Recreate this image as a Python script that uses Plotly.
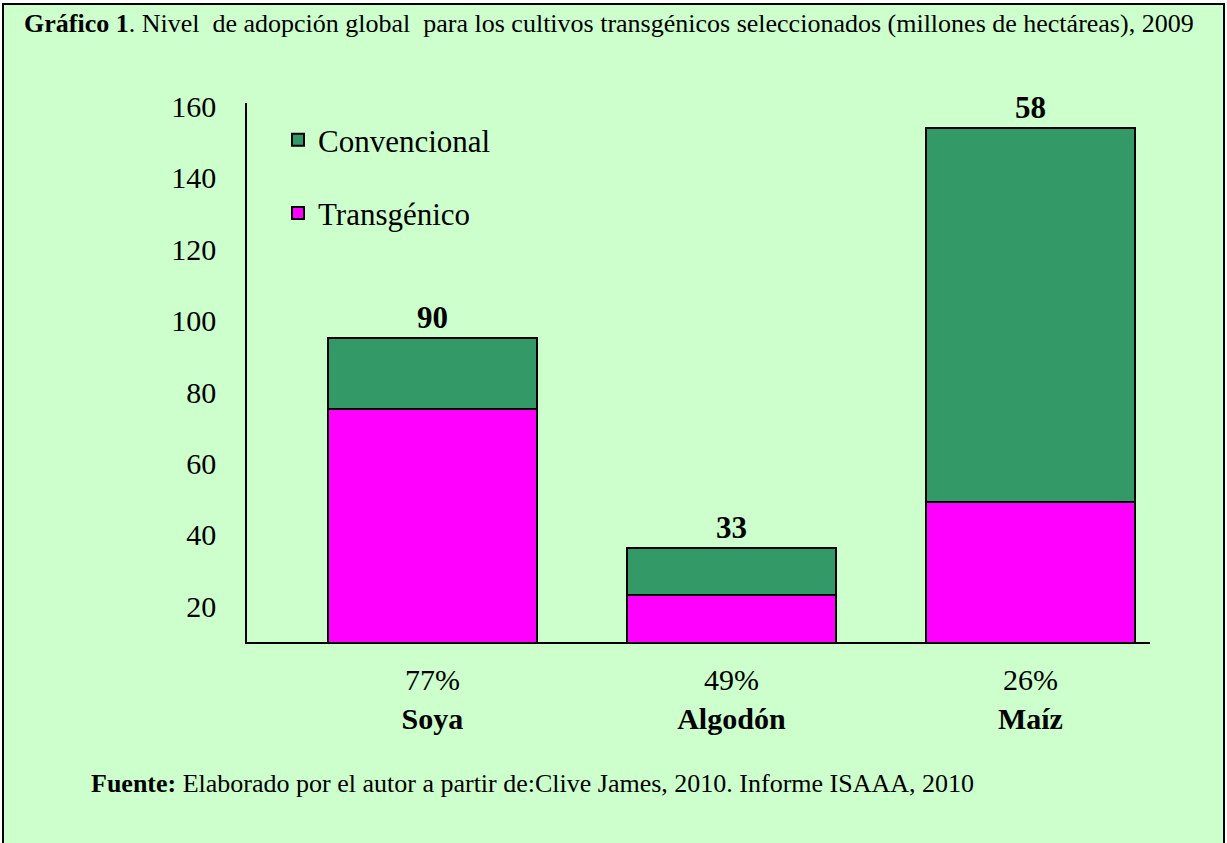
import plotly.graph_objects as go

crops = ["Soya", "Algodón", "Maíz"]
adoption_pct = ["77%", "49%", "26%"]
transgenico = [75.4, 23.2, 49.3]
convencional = [19.9, 13.1, 104.6]
top_labels = ["90", "33", "58"]

FONT = "Liberation Serif, Times New Roman, serif"
GREEN = "#339966"
MAGENTA = "#FF00FF"
BG = "#CCFFCC"

tick_text = [f"{p}<br><b>{c}</b>" for p, c in zip(adoption_pct, crops)]

fig = go.Figure()
fig.add_trace(go.Bar(
    x=crops, y=transgenico, name="Transgénico", legendgroup="t", legendrank=2,
    marker=dict(color=MAGENTA, line=dict(color="black", width=2)),
    width=0.7,
))
fig.add_trace(go.Bar(
    x=crops, y=convencional, name="Convencional", legendgroup="c", legendrank=1,
    marker=dict(color=GREEN, line=dict(color="black", width=2)),
    width=0.7,
    text=top_labels, textposition="outside",
    textfont=dict(family=FONT, size=31, color="black", weight="bold"),
    cliponaxis=False,
))

W, H = 1227, 843
# plot area in window pixels: x 247..1150, y 103..642
L, R, T, B = 247, 1150, 103, 642
ml, mr, mt, mb = L, W - R, T, H - B
pw, ph = W - ml - mr, H - mt - mb

def px(xp):
    return (xp - L) / pw

def py(yp):
    return (B - yp) / ph

fig.update_layout(
    width=W, height=H,
    margin=dict(l=ml, r=mr, t=mt, b=mb),
    barmode="stack",
    paper_bgcolor="white",
    plot_bgcolor="rgba(0,0,0,0)",
    font=dict(family=FONT, size=30, color="black"),
    showlegend=True,
    legend=dict(
        x=px(278), y=py(113), xanchor="left", yanchor="top",
        bgcolor="rgba(0,0,0,0)", traceorder="grouped",
        tracegroupgap=30, font=dict(family=FONT, size=31, color="black"),
    ),
    xaxis=dict(
        type="category", range=[-0.62, 2.4],
        tickmode="array", tickvals=crops, ticktext=tick_text,
        showline=True, linecolor="black", linewidth=1.5,
        showgrid=False, ticks="", ticklabelstandoff=10,
        tickfont=dict(family=FONT, size=30, color="black"),
    ),
    yaxis=dict(
        range=[10, 161], tickvals=[20, 40, 60, 80, 100, 120, 140, 160],
        showline=True, linecolor="black", linewidth=1.5,
        showgrid=False, zeroline=False, ticks="", ticklabelstandoff=23,
        tickfont=dict(family=FONT, size=30, color="black"),
    ),
    shapes=[dict(
        type="rect", xref="paper", yref="paper",
        x0=px(3), x1=px(1224), y0=py(846), y1=py(4),
        fillcolor=BG, line=dict(color="black", width=2), layer="below",
    )],
    annotations=[
        dict(text="<b>Gráfico 1</b>. Nivel  de adopción global  para los cultivos transgénicos seleccionados (millones de hectáreas), 2009",
             xref="paper", yref="paper", x=px(22), y=py(23), xanchor="left", yanchor="middle",
             showarrow=False, font=dict(family=FONT, size=26, color="black")),
        dict(text="<b>Fuente:</b> Elaborado por el autor a partir de:Clive James, 2010. Informe ISAAA, 2010",
             xref="paper", yref="paper", x=px(89), y=py(783), xanchor="left", yanchor="middle",
             showarrow=False, font=dict(family=FONT, size=26, color="black")),
    ],
)

fig.write_html("out.html", config={"displayModeBar": False},
               post_script="document.body.style.margin='0px';")
